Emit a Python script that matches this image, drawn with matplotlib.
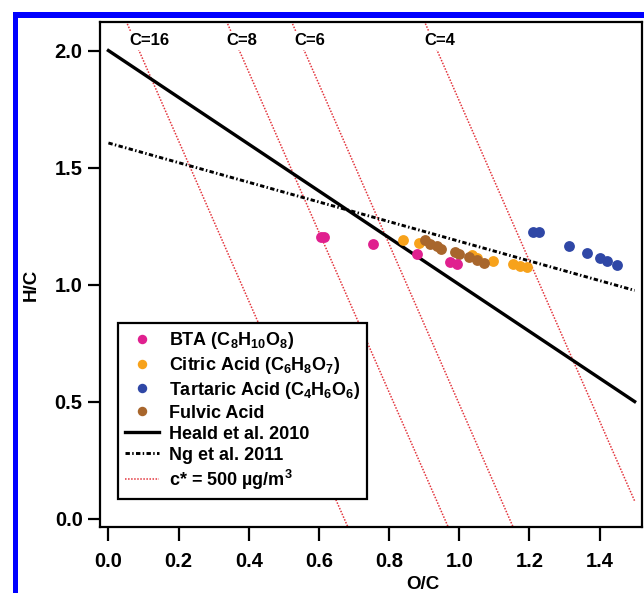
import numpy as np
import matplotlib
matplotlib.use('Agg')
import matplotlib.pyplot as plt
from matplotlib.lines import Line2D
from matplotlib.patches import Rectangle

plt.rcParams['font.family'] = ['Liberation Sans', 'DejaVu Sans']
plt.rcParams['font.weight'] = 'bold'
plt.rcParams['mathtext.fontset'] = 'custom'
plt.rcParams['mathtext.rm'] = 'Liberation Sans:bold'
plt.rcParams['mathtext.bf'] = 'Liberation Sans:bold'
plt.rcParams['mathtext.it'] = 'Liberation Sans:bold'
plt.rcParams['mathtext.default'] = 'rm'

# ---------------- data ----------------
bta_oc = [0.605, 0.615, 0.755, 0.881, 0.974, 0.995]
bta_hc = [1.205, 1.205, 1.172, 1.129, 1.097, 1.086]

citric_oc = [0.841, 0.886, 1.035, 1.050, 1.097, 1.154, 1.173, 1.192]
citric_hc = [1.190, 1.176, 1.125, 1.112, 1.100, 1.086, 1.080, 1.076]

tartaric_oc = [1.211, 1.228, 1.314, 1.364, 1.402, 1.421, 1.451]
tartaric_hc = [1.226, 1.223, 1.166, 1.137, 1.115, 1.100, 1.083]

fulvic_oc = [0.902, 0.917, 0.937, 0.948, 0.988, 1.000, 1.028, 1.051, 1.071]
fulvic_hc = [1.190, 1.173, 1.165, 1.152, 1.139, 1.130, 1.118, 1.105, 1.092]

heald_oc = [0.0, 1.5]
heald_hc = [2.0, 0.5]
ng_oc = [0.0, 1.5]
ng_hc = [1.605, 0.975]

c_numbers = [16, 8, 6, 4]
cstar_oc_at_hc0 = [0.672, 0.958, 1.143, 1.522]   # O/C where each c* line crosses H/C = 0
cstar_slope = -3.42                                # d(H/C)/d(O/C)
cstar_label_oc = [0.059, 0.335, 0.529, 0.902]
cstar_label_hc = 2.045

x_ticks = [0.0, 0.2, 0.4, 0.6, 0.8, 1.0, 1.2, 1.4]
y_ticks = [0.0, 0.5, 1.0, 1.5, 2.0]

# ---------------- figure ----------------
W, H = 644, 593
fig = plt.figure(figsize=(W / 100, H / 100), dpi=100)

# blue frame (cropped at right/bottom)
fig.patches.append(Rectangle((13 / W, 0), 4.5 / W, 1 - 12 / H, transform=fig.transFigure,
                             facecolor='#0000ff', edgecolor='none'))
fig.patches.append(Rectangle((13 / W, 1 - 17.5 / H), 1 - 13 / W, 5.5 / H, transform=fig.transFigure,
                             facecolor='#0000ff', edgecolor='none'))

ax = fig.add_axes([100 / W, 1 - 527 / H, 542 / W, 505 / H])
ax.set_xlim(-0.024, 1.521)
ax.set_ylim(-0.036, 2.122)

c_red = '#e3343c'
hc_span = np.linspace(-0.2, 2.3, 200)
for x0, cn, lx in zip(cstar_oc_at_hc0, c_numbers, cstar_label_oc):
    oc = x0 + hc_span / cstar_slope
    m = oc <= 1.5
    ax.plot(oc[m], hc_span[m], color=c_red, lw=1.1, ls=(0, (1, 1)), zorder=1)
    ax.text(lx, cstar_label_hc, f'C={cn}', fontsize=12, fontweight='bold', ha='left', va='center',
            bbox=dict(facecolor='white', edgecolor='none', pad=1.5), zorder=2)

ax.plot(heald_oc, heald_hc, color='black', lw=2.4, zorder=3)

ms = 7.8
ax.plot(citric_oc, citric_hc, 'o', color='#f7a21b', ms=ms, mec='none', zorder=4)
ax.plot(fulvic_oc, fulvic_hc, 'o', color='#a8662c', ms=ms, mec='none', zorder=5)
ax.plot(bta_oc, bta_hc, 'o', color='#e0208f', ms=ms, mec='none', zorder=6)
ax.plot(tartaric_oc, tartaric_hc, 'o', color='#2f47a6', ms=ms, mec='none', zorder=6)

ng_style = (0, (1.5, 0.8, 0.5, 0.8))
ax.plot(ng_oc, ng_hc, color='black', lw=2.1, ls=ng_style, zorder=7)

ax.set_xticks(x_ticks)
ax.set_xticklabels([f'{v:.1f}' for v in x_ticks])
ax.set_yticks(y_ticks)
ax.set_yticklabels([f'{v:.1f}' for v in y_ticks])
ax.tick_params(axis='both', direction='out', width=1.6, labelsize=14.5)
ax.tick_params(axis='y', length=8.5, pad=4)
ax.tick_params(axis='x', length=10, pad=8)
for s in ax.spines.values():
    s.set_linewidth(1.6)

ax.set_xlabel('O/C', fontsize=13.5, fontweight='bold')
ax.xaxis.set_label_coords(0.596, -0.098)
ax.set_ylabel('H/C', fontsize=13.5, fontweight='bold')
ax.yaxis.set_label_coords(-0.112, 0.479)

lms = 6.8
handles = [
    Line2D([], [], ls='none', marker='o', color='#e0208f', ms=lms, mec='none'),
    Line2D([], [], ls='none', marker='o', color='#f7a21b', ms=lms, mec='none'),
    Line2D([], [], ls='none', marker='o', color='#2f47a6', ms=lms, mec='none'),
    Line2D([], [], ls='none', marker='o', color='#a8662c', ms=lms, mec='none'),
    Line2D([], [], color='black', lw=2.4),
    Line2D([], [], color='black', lw=2.1, ls=ng_style),
    Line2D([], [], color=c_red, lw=1.1, ls=(0, (1, 1))),
]
labels = [
    r'BTA (C$_{8}$H$_{10}$O$_{8}$)',
    r'Citric Acid (C$_{6}$H$_{8}$O$_{7}$)',
    r'Tartaric Acid (C$_{4}$H$_{6}$O$_{6}$)',
    'Fulvic Acid',
    'Heald et al. 2010',
    'Ng et al. 2011',
    r'c* = 500 µg/m$^{3}$',
]
leg = ax.legend(handles, labels, loc='upper left', bbox_to_anchor=(118 / W, 1 - 323 / H),
                bbox_transform=fig.transFigure, fontsize=13, frameon=True, fancybox=False,
                edgecolor='black', framealpha=1, borderpad=0.38, labelspacing=0.22,
                handlelength=1.9, handletextpad=0.55, borderaxespad=0)
leg.get_frame().set_linewidth(1.6)
leg.set_zorder(10)

fig.savefig('out.png', dpi=100)
